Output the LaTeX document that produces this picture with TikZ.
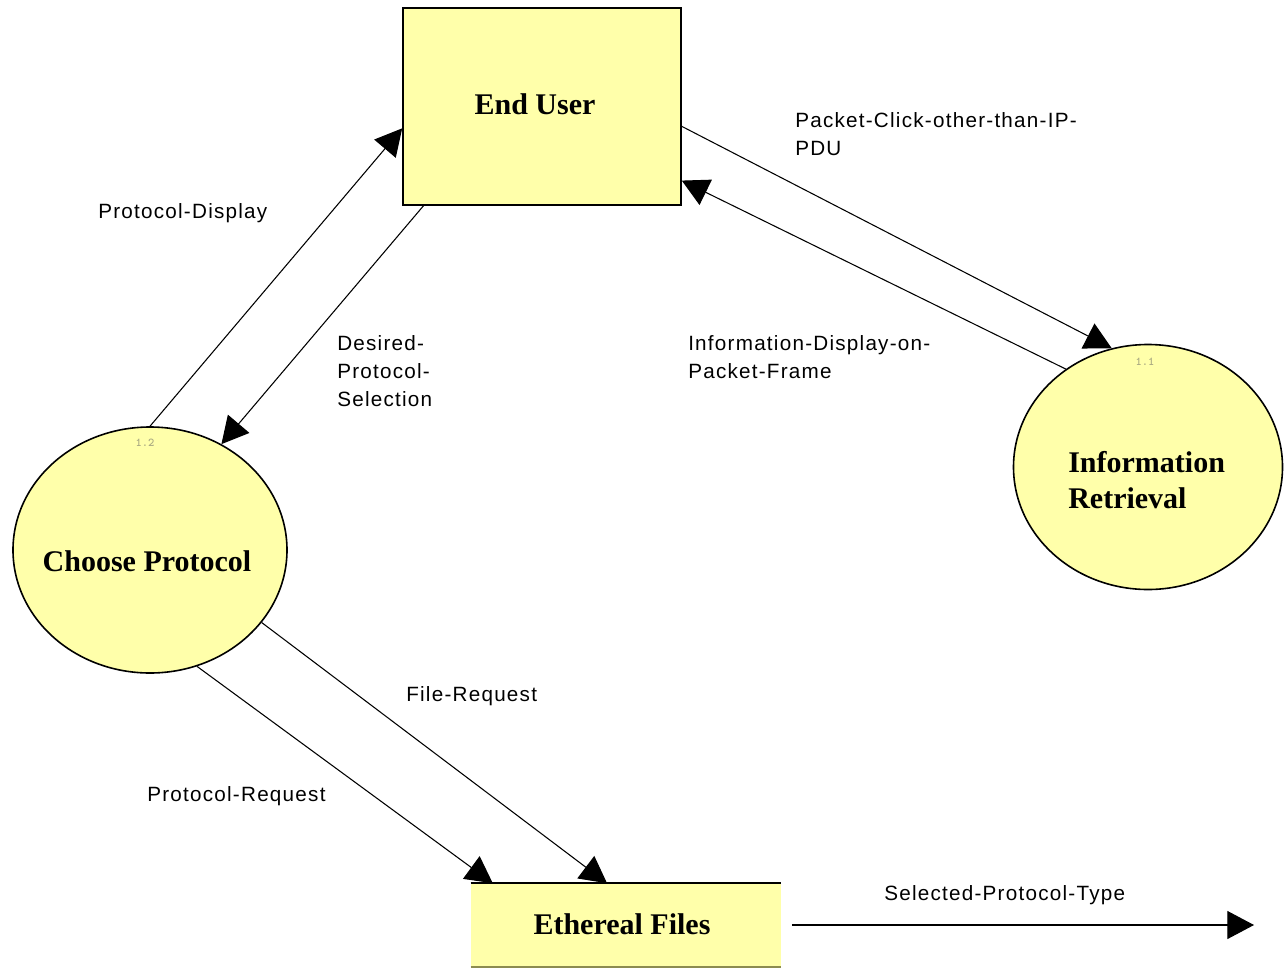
\documentclass[tikz,border=0pt]{standalone}
\usepackage{fontspec}
\setmainfont{Liberation Serif}
\newfontfamily\flowfont[LetterSpace=6]{Liberation Sans}
\usetikzlibrary{shapes.geometric,arrows.meta,calc}
\definecolor{procfill}{RGB}{255,255,170}
\definecolor{idgray}{RGB}{170,170,130}
\definecolor{storeline}{RGB}{140,140,80}
\begin{document}
\begin{tikzpicture}[x=0.75pt,y=-0.75pt,
  entity/.style={draw=black,line width=1.2pt,fill=procfill,rectangle,inner sep=0pt,
    minimum width=208.5pt,minimum height=147.75pt},
  process/.style={draw=black,line width=1.2pt,fill=procfill,ellipse,inner sep=0pt},
  datastore/.style={fill=procfill,rectangle,inner sep=0pt,
    minimum width=232.5pt,minimum height=62.25pt},
  title/.style={inner sep=0pt,align=left,font=\fontsize{22.5}{27}\selectfont\bfseries},
  procid/.style={text=idgray,font=\ttfamily\bfseries\fontsize{9}{10}\selectfont,inner sep=0pt},
  flow/.style={draw=black,line width=0.8pt,-{Triangle[length=20pt,width=21pt]}},
  flowlabel/.style={anchor=west,inner sep=0pt,align=left,
    font=\flowfont\fontsize{15.5}{21}\selectfont}]
\useasboundingbox (0,0) rectangle (1284,968);

% external entity, processes and data store
\node[entity] (eu) at (542,106.5) {};
\node[title] (eutext) at (535,104) {End User};
\node[process,minimum width=201.75pt,minimum height=183.75pt] (ir) at (1148,467) {};
\node[title,anchor=west] (irtext) at (1068,480) {Information\\Retrieval};
\node[procid] (irid) at (1145,362) {1.1};
\node[process,minimum width=205.5pt,minimum height=184.5pt] (cp) at (150,550) {};
\node[title] (cptext) at (147,561) {Choose Protocol};
\node[procid] (cpid) at (145,443) {1.2};
\node[datastore] (ef) at (626,925) {};
\node[title] (eftext) at (622,924) {Ethereal Files};
\draw[line width=1.2pt,black] (ef.north west) -- (ef.north east);
\draw[line width=1.2pt,storeline] (ef.south west) -- (ef.south east);

% data flows
\draw[flow] (cp.north) -- ($(eu.north west)!0.61!(eu.south west)$);
\draw[flow] ($(eu.south west)!0.076!(eu.south east)$) -- (cp.56.6);
\draw[flow] ($(eu.north east)!0.60!(eu.south east)$) -- (ir.107.8);
\draw[flow] (ir.130.6) -- ($(eu.north east)!0.873!(eu.south east)$);
\draw[flow] (cp.292) -- ($(ef.north west)!0.071!(ef.north east)$);
\draw[flow] (cp.327.7) -- ($(ef.north west)!0.439!(ef.north east)$);
\coordinate (sink) at (1254,925);
\draw[flow] ([xshift=8pt]ef.east) -- (sink);

% flow labels
\node[flowlabel] (l1) at (98,213) {Protocol-Display};
\node[flowlabel] (l2) at (337,371) {Desired-\\Protocol-\\Selection};
\node[flowlabel] (l3) at (795,134) {Packet-Click-other-than-IP-\\PDU};
\node[flowlabel] (l4) at (688,357) {Information-Display-on-\\Packet-Frame};
\node[flowlabel] (l5) at (406,696) {File-Request};
\node[flowlabel] (l6) at (147,796) {Protocol-Request};
\node[flowlabel] (l7) at (884,895) {Selected-Protocol-Type};
\end{tikzpicture}
\end{document}
